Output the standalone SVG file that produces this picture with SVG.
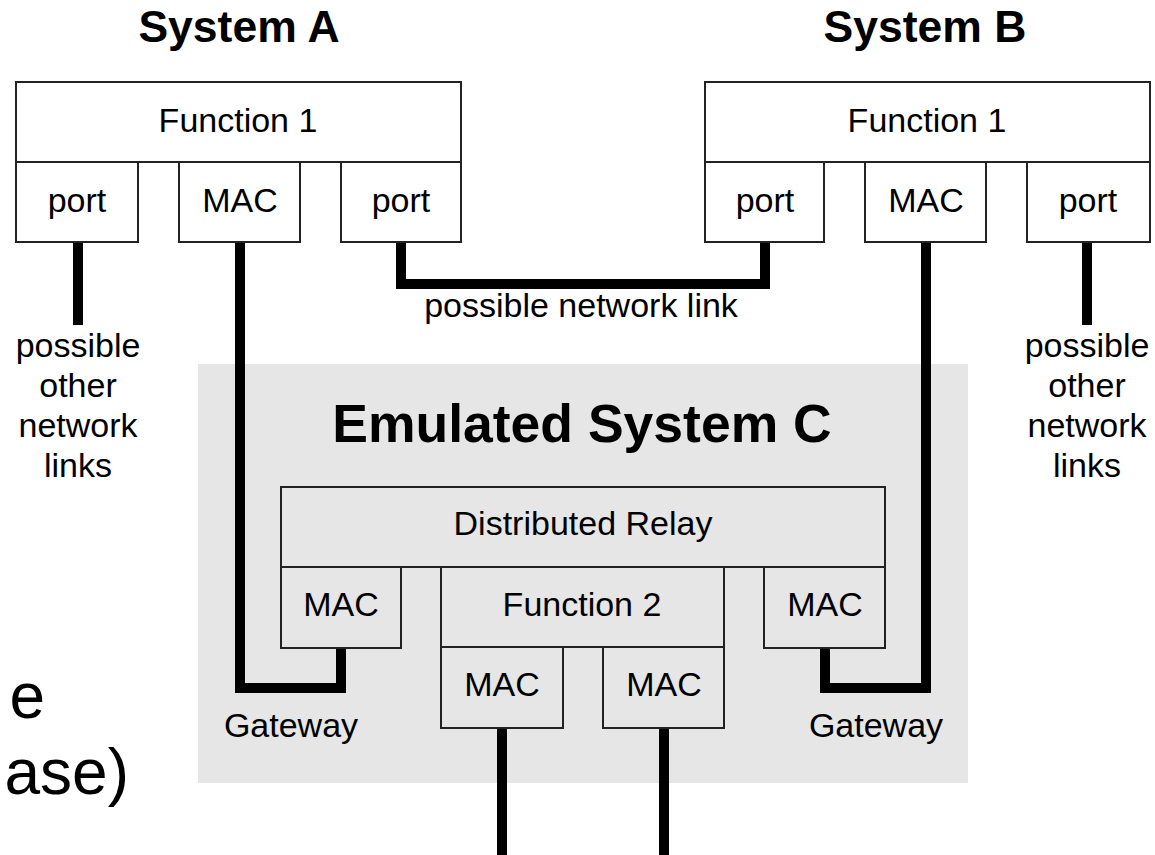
<svg xmlns="http://www.w3.org/2000/svg" width="1155" height="855" viewBox="0 0 1155 855">
<style>
.box{fill:none;stroke:#222;stroke-width:2}
.t{font-family:"Liberation Sans",Arial,sans-serif;font-size:34px;fill:#000;text-anchor:middle}
.title{font-family:"Liberation Sans",Arial,sans-serif;font-weight:bold;fill:#000;text-anchor:middle}
.big{font-family:"Liberation Sans",Arial,sans-serif;font-size:64px;fill:#000;text-anchor:end}
.wire{fill:none;stroke:#000;stroke-width:10;stroke-linejoin:miter}
</style>
<rect width="1155" height="855" fill="#fff"/>
<rect id="emulated-bg" x="198" y="364" width="770" height="419" fill="#e6e6e6"/>

<text class="big" x="45" y="718">e</text>
<text class="big" x="129" y="794">ase)</text>

<text class="title" x="239" y="42" font-size="44.5">System A</text>
<text class="title" x="925" y="42" font-size="44.5">System B</text>
<text class="title" x="582" y="442" font-size="53.5">Emulated System C</text>

<g id="connectors">
<path class="wire" d="M78,242 V325"/>
<path class="wire" d="M240,242 V688 H341 V648"/>
<path class="wire" d="M401,242 V284 H765 V242"/>
<path class="wire" d="M926,242 V688 H825 V648"/>
<path class="wire" d="M1087,242 V325"/>
<path class="wire" d="M502,728 V855"/>
<path class="wire" d="M664,728 V855"/>
</g>

<g id="sysA-function1"><rect class="box" x="16" y="82" width="445" height="80" fill="#fff"/><text class="t" x="238" y="132">Function 1</text></g>
<g id="sysA-port1"><rect class="box" x="16" y="162" width="122" height="80"/><text class="t" x="77" y="212">port</text></g>
<g id="sysA-mac"><rect class="box" x="179" y="162" width="121" height="80"/><text class="t" x="240" y="212">MAC</text></g>
<g id="sysA-port2"><rect class="box" x="341" y="162" width="120" height="80"/><text class="t" x="401" y="212">port</text></g>

<g id="sysB-function1"><rect class="box" x="705" y="82" width="445" height="80" fill="#fff"/><text class="t" x="927" y="132">Function 1</text></g>
<g id="sysB-port1"><rect class="box" x="705" y="162" width="119" height="80"/><text class="t" x="765" y="212">port</text></g>
<g id="sysB-mac"><rect class="box" x="865" y="162" width="121" height="80"/><text class="t" x="926" y="212">MAC</text></g>
<g id="sysB-port2"><rect class="box" x="1027" y="162" width="123" height="80"/><text class="t" x="1088" y="212">port</text></g>

<g id="label-left-links"><text class="t" x="78" y="357">possible</text><text class="t" x="78" y="397">other</text><text class="t" x="78" y="437">network</text><text class="t" x="78" y="477">links</text></g>
<g id="label-right-links"><text class="t" x="1087" y="357">possible</text><text class="t" x="1087" y="397">other</text><text class="t" x="1087" y="437">network</text><text class="t" x="1087" y="477">links</text></g>
<g id="label-network-link"><text class="t" x="581" y="317">possible network link</text></g>

<g id="distributed-relay"><rect class="box" x="281" y="487" width="604" height="80"/><text class="t" x="583" y="535">Distributed Relay</text></g>
<g id="mac-gw-left"><rect class="box" x="281" y="567" width="120" height="81"/><text class="t" x="341" y="616">MAC</text></g>
<g id="function2"><rect class="box" x="441" y="567" width="283" height="80"/><text class="t" x="582" y="616">Function 2</text></g>
<g id="mac-gw-right"><rect class="box" x="764" y="567" width="121" height="81"/><text class="t" x="825" y="616">MAC</text></g>
<g id="mac-f2-left"><rect class="box" x="441" y="647" width="122" height="81"/><text class="t" x="502" y="696">MAC</text></g>
<g id="mac-f2-right"><rect class="box" x="603" y="647" width="121" height="81"/><text class="t" x="664" y="696">MAC</text></g>
<g id="gateway-left"><text class="t" x="291" y="737">Gateway</text></g>
<g id="gateway-right"><text class="t" x="876" y="737">Gateway</text></g>
</svg>
